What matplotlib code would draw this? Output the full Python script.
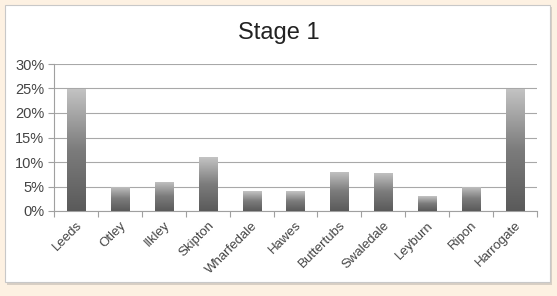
import matplotlib.pyplot as plt
import numpy as np
from matplotlib.patches import Rectangle
from matplotlib.colors import LinearSegmentedColormap
from matplotlib.ticker import FuncFormatter, FixedLocator

# Datos
lugares = ['Leeds', 'Otley', 'Ilkley', 'Skipton', 'Wharfedale', 'Hawes',
           'Buttertubs', 'Swaledale', 'Leyburn', 'Ripon', 'Harrogate']
porcentajes = [25, 5, 6, 11, 4, 4, 8, 7.8, 3, 5, 25]

plt.rcParams['font.family'] = ['Liberation Sans', 'DejaVu Sans']

fig = plt.figure(figsize=(5.57, 2.96), dpi=100)
fig.patch.set_facecolor('#fdf1e2')

# Panel blanco con sombra
sombra = Rectangle((7 / 557, 1 - 285 / 296), 545 / 557, 278 / 296,
                   transform=fig.transFigure, facecolor='#d8cfc4', edgecolor='none', zorder=0)
panel = Rectangle((5 / 557, 1 - 282 / 296), 545 / 557, 277 / 296,
                  transform=fig.transFigure, facecolor='white', edgecolor='#c8c8c8',
                  linewidth=0.8, zorder=1)
fig.patches.extend([sombra, panel])

ax = fig.add_axes([54 / 557, 1 - 211 / 296, 483 / 557, 147 / 296])
ax.set_facecolor('none')
ax.set_zorder(2)

x = np.arange(len(lugares))
barras = ax.bar(x, porcentajes, width=0.41, color='none', edgecolor='none', zorder=3)

# Degradado gris en cada barra
mapa = LinearSegmentedColormap.from_list('g', ['#5a5a5a', '#7c7c7c', '#c4c4c4'])
gradiente = np.linspace(0, 1, 256).reshape(-1, 1)
for b in barras:
    x0, y0 = b.get_x(), b.get_y()
    w, h = b.get_width(), b.get_height()
    img = ax.imshow(gradiente, cmap=mapa, origin='lower', aspect='auto',
                    extent=(x0, x0 + w, y0, y0 + h), zorder=3)
    img.set_clip_path(b)

ax.set_xlim(-0.5, len(lugares) - 0.5)
ax.set_ylim(0, 30)
ax.set_yticks(np.arange(0, 31, 5))
ax.yaxis.set_major_formatter(FuncFormatter(lambda v, p: f'{int(v)}%'))
ax.grid(axis='y', color='#a8a8a8', linewidth=0.8, zorder=1)
ax.set_axisbelow(True)

# Ticks del eje x entre categorías
ax.xaxis.set_major_locator(FixedLocator(np.arange(-0.5, len(lugares), 1)))
ax.xaxis.set_major_formatter(FuncFormatter(lambda v, p: ''))
ax.xaxis.set_minor_locator(FixedLocator(x))
ax.set_xticklabels(lugares, minor=True, rotation=45, ha='right', rotation_mode='anchor',
                   fontsize=9.5, color='#444444')
ax.tick_params(axis='x', which='minor', length=0, pad=6)
ax.tick_params(axis='x', which='major', length=4, color='#a0a0a0', width=0.8)
ax.tick_params(axis='y', length=4, color='#a0a0a0', width=0.8, labelsize=10.5,
               labelcolor='#444444', pad=3)

for lado in ['top', 'right']:
    ax.spines[lado].set_visible(False)
for lado in ['left', 'bottom']:
    ax.spines[lado].set_color('#a0a0a0')
    ax.spines[lado].set_linewidth(0.8)

fig.text(0.5, 1 - 33 / 296, 'Stage 1', ha='center', va='center', fontsize=17, color='#222222')

plt.savefig('out.png', dpi=100, facecolor=fig.get_facecolor())
